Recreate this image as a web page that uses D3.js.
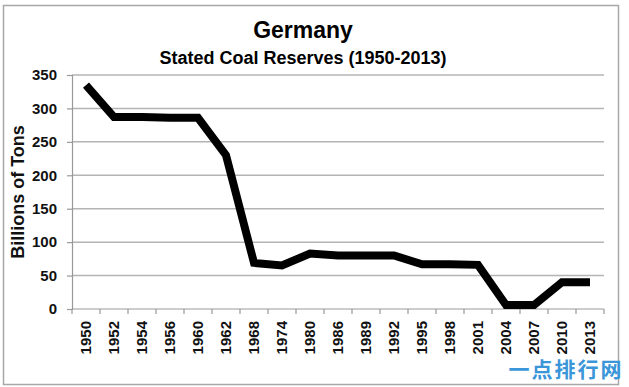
<!DOCTYPE html>
<html>
<head>
<meta charset="utf-8">
<script src="https://cdn.jsdelivr.net/npm/d3@7/dist/d3.min.js"></script>
<style>
  body { margin: 0; background: #fff; }
  svg { font-family: "Liberation Sans", Arial, sans-serif; }
</style>
</head>
<body>
<div id="chart"></div>
<script>
// Stated coal reserves, Germany
var years = ["1950", "1952", "1954", "1956", "1960", "1962", "1968", "1974", "1980", "1986",
             "1989", "1992", "1995", "1998", "2001", "2004", "2007", "2010", "2013"];
var reserves = [335, 287, 287, 286, 286, 230, 69, 65, 83, 80,
                80, 80, 67, 67, 66, 6, 6, 40, 40];
var yTicks = [0, 50, 100, 150, 200, 250, 300, 350];

var W = 629, H = 387;
var margin = {top: 75, right: 25, bottom: 78, left: 72},
    width = W - margin.left - margin.right,
    height = H - margin.top - margin.bottom;

var svg = d3.select("#chart").append("svg")
    .attr("width", W)
    .attr("height", H);

// outer frame
svg.append("rect")
    .attr("x", 3.5).attr("y", 5.5)
    .attr("width", 615).attr("height", 379)
    .attr("fill", "#fff")
    .attr("stroke", "#a8a8a8")
    .attr("stroke-width", 1.5);

svg.append("text")
    .attr("x", 303).attr("y", 38)
    .attr("text-anchor", "middle")
    .style("font-size", "23px").style("font-weight", "bold")
    .text("Germany");

svg.append("text")
    .attr("x", 303).attr("y", 64)
    .attr("text-anchor", "middle")
    .style("font-size", "18px").style("font-weight", "bold")
    .text("Stated Coal Reserves (1950-2013)");

var x = d3.scaleBand()
    .domain(years)
    .range([0, width]);

var y = d3.scaleLinear()
    .domain([0, 350])
    .range([height, 0]);

var g = svg.append("g")
    .attr("transform", "translate(" + margin.left + "," + margin.top + ")");

// gridlines
g.selectAll(".grid")
    .data(yTicks.filter(function(d) { return d > 0; }))
    .enter().append("line")
    .attr("class", "grid")
    .attr("x1", 0).attr("x2", width)
    .attr("y1", function(d) { return y(d); })
    .attr("y2", function(d) { return y(d); })
    .attr("stroke", "#b4b4b4")
    .attr("stroke-width", 1.5);

// y axis
var yAxis = g.append("g")
    .call(d3.axisLeft(y).tickValues(yTicks).tickSize(5).tickPadding(10));
yAxis.select(".domain").attr("stroke", "#999").attr("stroke-width", 1.2);
yAxis.selectAll(".tick line").attr("stroke", "#999").attr("stroke-width", 1.2);
yAxis.selectAll("text")
    .style("font-size", "15px").style("font-weight", "bold")
    .style("font-family", "Liberation Sans, Arial, sans-serif")
    .attr("fill", "#111");

// x axis: ticks on band boundaries
var xAxis = g.append("g")
    .attr("transform", "translate(0," + height + ")");
xAxis.append("line")
    .attr("x1", 0).attr("x2", width)
    .attr("stroke", "#999").attr("stroke-width", 1.2);
xAxis.selectAll(".xt")
    .data(years.concat(["end"]))
    .enter().append("line")
    .attr("class", "xt")
    .attr("x1", function(d, i) { return i * x.step(); })
    .attr("x2", function(d, i) { return i * x.step(); })
    .attr("y1", 0).attr("y2", 5)
    .attr("stroke", "#999").attr("stroke-width", 1.2);
xAxis.selectAll(".xl")
    .data(years)
    .enter().append("text")
    .attr("class", "xl")
    .attr("transform", function(d) {
        return "translate(" + (x(d) + x.bandwidth() / 2 + 5) + ",12) rotate(-90)";
    })
    .attr("text-anchor", "end")
    .style("font-size", "15px").style("font-weight", "bold")
    .attr("fill", "#111")
    .text(function(d) { return d; });

// y label
svg.append("text")
    .attr("transform", "translate(24," + (margin.top + height / 2) + ") rotate(-90)")
    .attr("text-anchor", "middle")
    .style("font-size", "18px").style("font-weight", "bold")
    .attr("fill", "#111")
    .text("Billions of Tons");

// line
var line = d3.line()
    .x(function(d, i) { return x(years[i]) + x.bandwidth() / 2; })
    .y(function(d) { return y(d); });

g.append("path")
    .datum(reserves)
    .attr("d", line)
    .attr("fill", "none")
    .attr("stroke", "#000")
    .attr("stroke-width", 8);

// watermark
svg.append("text")
    .attr("x", 566).attr("y", 377)
    .attr("text-anchor", "middle")
    .style("font-family", "Noto Sans CJK SC")
    .style("font-size", "21px")
    .style("font-weight", "bold")
    .style("letter-spacing", "2px")
    .attr("fill", "#3a96d8")
    .text("一点排行网");
</script>
</body>
</html>
